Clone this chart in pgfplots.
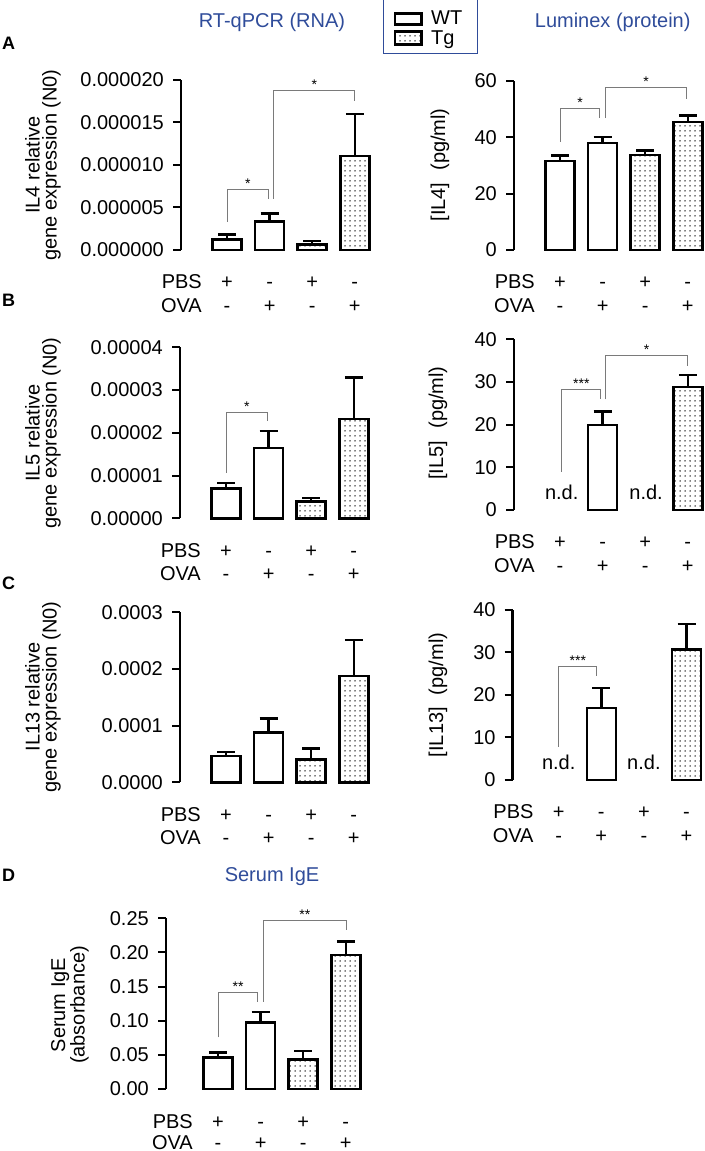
\documentclass[border=0pt]{standalone}
\usepackage{fontspec}
\setmainfont{Liberation Sans}
\usepackage{pgfplots}
\pgfplotsset{compat=1.18}
\usetikzlibrary{patterns.meta}
\definecolor{ttl}{HTML}{2F4C9A}
\definecolor{brk}{HTML}{7A7A7A}
\newcommand{\fnt}{\fontsize{20}{17}\selectfont}
\tikzset{
  sg/.style={font=\fontsize{20}{24}\selectfont, anchor=base, inner sep=0pt},
  st/.style={font=\fontsize{14}{14}\selectfont, anchor=base, inner sep=0pt, yshift=1pt},
  br/.style={brk, line width=1pt},
  lt/.style={anchor=base west, inner sep=0pt, font=\fontsize{18}{18}\selectfont\bfseries},
}
\pgfplotsset{
  panel/.style={
    scale only axis, width=191.7pt, xmin=-0.08, xmax=4.42, ymin=0,
    axis x line=none, axis y line*=left, clip=false,
    y axis line style={line width=2.5pt, black},
    ytick style={line width=2pt, black},
    major tick length=8pt, tick align=outside,
    yticklabel style={font=\fontsize{20}{24}\selectfont, inner sep=0pt, xshift=-9pt},
    scaled y ticks=false,
    anchor=south west,
  },
  wt/.style={ybar, bar width=29pt, bar shift=0pt, fill=white, draw=black, line width=2.5pt, forget plot},
  tg/.style={wt, postaction={pattern={Dots[distance=5pt, radius=0.75pt]}, pattern color=black}},
  eb/.style={draw=none, mark=none, forget plot,
    error bars/.cd, y dir=plus, y explicit,
    error bar style={draw=black, line width=2.5pt, solid},
    error mark options={draw=black, rotate=90, mark size=9pt, line width=2.5pt, solid}},
}
\newcommand{\signs}[1][62.5pt]{%
  \node[sg, anchor=base east, xshift=-25pt, yshift=-39pt] at (axis cs:1,0) {PBS};
  \node[sg, anchor=base east, xshift=-25pt, yshift=-#1] at (axis cs:1,0) {OVA};
  \node[sg, yshift=-39pt] at (axis cs:1,0) {+};
  \node[sg, yshift=-39pt] at (axis cs:2,0) {-};
  \node[sg, yshift=-39pt] at (axis cs:3,0) {+};
  \node[sg, yshift=-39pt] at (axis cs:4,0) {-};
  \node[sg, yshift=-#1] at (axis cs:1,0) {-};
  \node[sg, yshift=-#1] at (axis cs:2,0) {+};
  \node[sg, yshift=-#1] at (axis cs:3,0) {-};
  \node[sg, yshift=-#1] at (axis cs:4,0) {+};
}
\begin{document}
\begin{tikzpicture}
\useasboundingbox (0,0) rectangle (704pt,1151pt);

% ---------- titles, legend, letters ----------
\node[anchor=base, text=ttl, font=\fnt] at (272pt,1123.7pt) {RT-qPCR (RNA)};
\node[anchor=base, text=ttl, font=\fnt] at (612.7pt,1123.3pt) {Luminex (protein)};
\node[anchor=base, text=ttl, font=\fnt] at (272pt,269.7pt) {Serum IgE};
\draw[ttl, line width=1pt] (383pt,1097pt) rectangle (477pt,1152pt);
\draw[black, line width=2.5pt] (395pt,1126.7pt) rectangle (421.7pt,1137.7pt);
\draw[black, line width=2.5pt, fill=white, postaction={pattern={Dots[distance=5pt, radius=0.75pt]}, pattern color=black}] (395pt,1106.7pt) rectangle (421.7pt,1119.3pt);
\node[anchor=base west, inner sep=0pt, font=\fnt] at (431pt,1126.3pt) {WT};
\node[anchor=base west, inner sep=0pt, font=\fnt] at (431pt,1106.5pt) {Tg};
\node[lt] at (2pt,1101pt) {A};
\node[lt] at (2pt,844pt) {B};
\node[lt] at (2pt,561pt) {C};
\node[lt] at (2pt,269pt) {D};

% ---------- y labels ----------
\node[rotate=90, align=center, font=\fnt] at (43pt,986pt) {IL4 relative\\gene expression (N0)};
\node[rotate=90, font=\fnt] at (440pt,986pt) {[IL4]\hspace{0.6em}(pg/ml)};
\node[rotate=90, align=center, font=\fnt] at (43pt,718pt) {IL5 relative\\gene expression (N0)};
\node[rotate=90, font=\fnt] at (438pt,728pt) {[IL5]\hspace{0.6em}(pg/ml)};
\node[rotate=90, align=center, font=\fnt] at (43pt,454pt) {IL13 relative\\gene expression (N0)};
\node[rotate=90, font=\fnt] at (438pt,456pt) {[IL13]\hspace{0.6em}(pg/ml)};
\node[rotate=90, align=center, font=\fnt] at (70pt,146pt) {Serum IgE\\(absorbance)};

% ---------- A left ----------
\begin{axis}[panel, at={(181pt,901pt)}, height=170pt, ymax=2e-5,
  ytick={0,5e-6,1e-5,1.5e-5,2e-5},
  yticklabels={0.000000,0.000005,0.000010,0.000015,0.000020}]
\addplot[wt] coordinates {(1,1.26e-6) (2,3.33e-6)};
\addplot[tg] coordinates {(3,0.67e-6) (4,11.06e-6)};
\addplot[eb] coordinates {(1,1.26e-6) +- (0,0.59e-6) (2,3.33e-6) +- (0,0.97e-6) (3,0.67e-6) +- (0,0.39e-6) (4,11.06e-6) +- (0,4.94e-6)};
\draw[br] (axis cs:1,3.33e-6) |- (axis cs:1.98,7.14e-6) -- (axis cs:1.98,5.96e-6);
\node[st] at (axis cs:1.49,7.14e-6) {*};
\draw[br] (axis cs:2.1,6.0e-6) |- (axis cs:4,18.82e-6) -- (axis cs:4,17.56e-6);
\node[st] at (axis cs:3.05,18.82e-6) {*};
\signs
\end{axis}

% ---------- A right ----------
\begin{axis}[panel, at={(514pt,901pt)}, height=169.3pt, ymax=60,
  ytick={0,20,40,60}, yticklabels={0,20,40,60}]
\addplot[wt] coordinates {(1,31.5) (2,38.0)};
\addplot[tg] coordinates {(3,33.6) (4,45.3)};
\addplot[eb] coordinates {(1,31.5) +- (0,1.9) (2,38.0) +- (0,2.0) (3,33.6) +- (0,1.6) (4,45.3) +- (0,2.4)};
\draw[br] (axis cs:1,38.4) |- (axis cs:1.93,50.2) -- (axis cs:1.93,46.7);
\node[st] at (axis cs:1.47,50.2) {*};
\draw[br] (axis cs:2.06,46.7) |- (axis cs:3.98,57.5) -- (axis cs:3.98,53.5);
\node[st] at (axis cs:3.02,57.5) {*};
\signs
\end{axis}

% ---------- B left ----------
\begin{axis}[panel, at={(180pt,632.7pt)}, height=171pt, ymax=4e-5,
  ytick={0,1e-5,2e-5,3e-5,4e-5},
  yticklabels={0.00000,0.00001,0.00002,0.00003,0.00004}]
\addplot[wt] coordinates {(1,0.70e-5) (2,1.645e-5)};
\addplot[tg] coordinates {(3,0.39e-5) (4,2.32e-5)};
\addplot[eb] coordinates {(1,0.70e-5) +- (0,0.12e-5) (2,1.645e-5) +- (0,0.395e-5) (3,0.39e-5) +- (0,0.09e-5) (4,2.32e-5) +- (0,0.97e-5)};
\draw[br] (axis cs:1,1.07e-5) |- (axis cs:1.98,2.47e-5) -- (axis cs:1.98,2.28e-5);
\node[st] at (axis cs:1.49,2.47e-5) {*};
\signs
\end{axis}

% ---------- B right ----------
\begin{axis}[panel, at={(514pt,641pt)}, height=170.7pt, ymax=40,
  ytick={0,10,20,30,40}, yticklabels={0,10,20,30,40}]
\addplot[wt] coordinates {(2,19.9)};
\addplot[tg] coordinates {(4,28.8)};
\addplot[eb] coordinates {(2,19.9) +- (0,3.2) (4,28.8) +- (0,2.8)};
\node[sg, yshift=10pt] at (axis cs:1.04,0) {n.d.};
\node[sg, yshift=10pt] at (axis cs:3.02,0) {n.d.};
\draw[br] (axis cs:1.04,9.0) |- (axis cs:1.95,28.3) -- (axis cs:1.95,26.1);
\node[st] at (axis cs:1.5,28.3) {***};
\draw[br] (axis cs:2.07,25.9) |- (axis cs:4,36.2) -- (axis cs:4,33.7);
\node[st] at (axis cs:3.03,36.2) {*};
\signs
\end{axis}

% ---------- C left ----------
\begin{axis}[panel, at={(180pt,368.7pt)}, height=170pt, ymax=3e-4,
  ytick={0,1e-4,2e-4,3e-4},
  yticklabels={0.0000,0.0001,0.0002,0.0003}]
\addplot[wt] coordinates {(1,0.464e-4) (2,0.88e-4)};
\addplot[tg] coordinates {(3,0.406e-4) (4,1.876e-4)};
\addplot[eb] coordinates {(1,0.464e-4) +- (0,0.071e-4) (2,0.88e-4) +- (0,0.25e-4) (3,0.406e-4) +- (0,0.194e-4) (4,1.876e-4) +- (0,0.634e-4)};
\signs
\end{axis}

% ---------- C right ----------
\begin{axis}[panel, at={(512.7pt,371pt)}, height=170pt, ymax=40,
  ytick={0,10,20,30,40}, yticklabels={0,10,20,30,40}]
\addplot[wt] coordinates {(2,16.9)};
\addplot[tg] coordinates {(4,30.75)};
\addplot[eb] coordinates {(2,16.9) +- (0,4.8) (4,30.75) +- (0,5.95)};
\node[sg, yshift=10pt] at (axis cs:1,0) {n.d.};
\node[sg, yshift=10pt] at (axis cs:3,0) {n.d.};
\draw[br] (axis cs:1,7.8) |- (axis cs:1.88,26.8) -- (axis cs:1.88,24.5);
\node[st] at (axis cs:1.45,26.8) {***};
\signs
\end{axis}

% ---------- D ----------
\begin{axis}[panel, at={(166pt,62pt)}, height=170.7pt, width=197.7pt, xmin=-0.22, ymax=0.25,
  ytick={0,0.05,0.10,0.15,0.20,0.25},
  yticklabels={0.00,0.05,0.10,0.15,0.20,0.25}]
\addplot[wt] coordinates {(1,0.0464) (2,0.0977)};
\addplot[tg] coordinates {(3,0.0435) (4,0.196)};
\addplot[eb] coordinates {(1,0.0464) +- (0,0.0073) (2,0.0977) +- (0,0.0153) (3,0.0435) +- (0,0.0125) (4,0.196) +- (0,0.020)};
\draw[br] (axis cs:1.02,0.0757) |- (axis cs:1.92,0.1416) -- (axis cs:1.92,0.1279);
\node[st] at (axis cs:1.47,0.1416) {**};
\draw[br] (axis cs:2.06,0.1279) |- (axis cs:4.01,0.2475) -- (axis cs:4.01,0.2329);
\node[st] at (axis cs:3.04,0.2475) {**};
\signs[60pt]
\end{axis}
\end{tikzpicture}
\end{document}
